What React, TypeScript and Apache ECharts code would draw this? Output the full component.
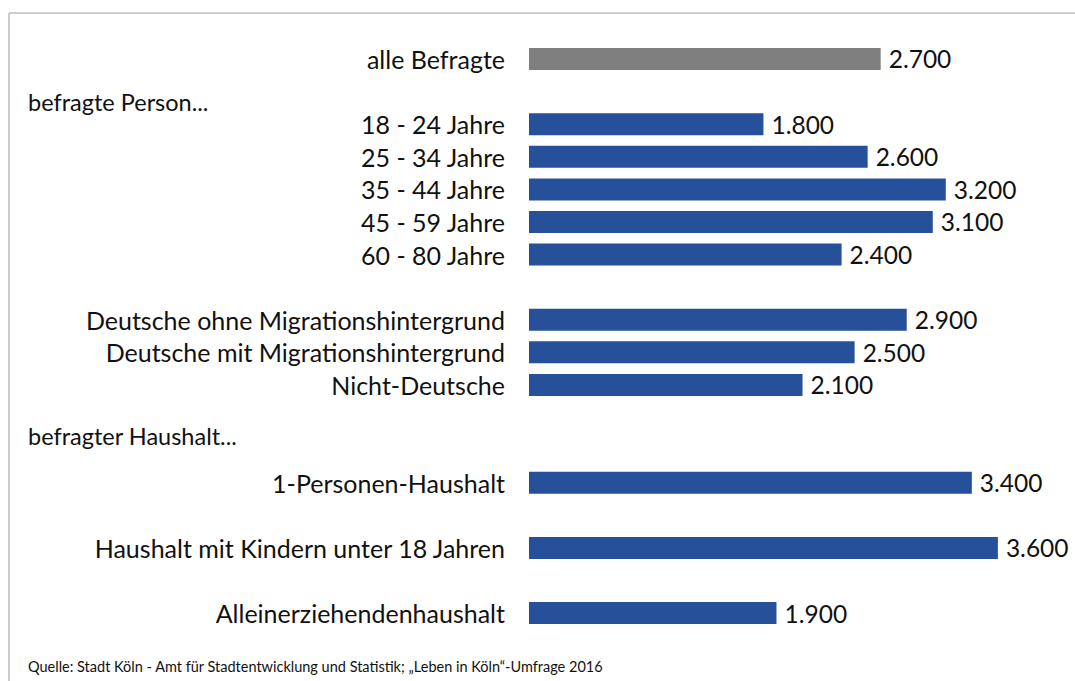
import React, { useEffect, useRef } from "react";
import * as echarts from "echarts";

const categories: string[] = [
  "alle Befragte",
  "",
  "18 - 24 Jahre",
  "25 - 34 Jahre",
  "35 - 44 Jahre",
  "45 - 59 Jahre",
  "60 - 80 Jahre",
  "",
  "Deutsche ohne Migrationshintergrund",
  "Deutsche mit Migrationshintergrund",
  "Nicht-Deutsche",
  "",
  "",
  "1-Personen-Haushalt",
  "",
  "Haushalt mit Kindern unter 18 Jahren",
  "",
  "Alleinerziehendenhaushalt",
];

const values: (number | null)[] = [
  2700, null, 1800, 2600, 3200, 3100, 2400, null, 2900, 2500, 2100, null, null, 3400, null, 3600, null, 1900,
];

const highlightIndex = 0;

const groupLabels: string[] = ["befragte Person...", "befragter Haushalt..."];
const sourceText = "Quelle: Stadt Köln - Amt für Stadtentwicklung und Statistik; „Leben in Köln“-Umfrage 2016";

const FONT = "Lato";
const BLUE = "#27509b";
const GRAY = "#7f7f7f";

function fmt(v: number): string {
  return String(v).replace(/\B(?=(\d{3})+(?!\d))/g, ".");
}

export default function App() {
  const ref = useRef<HTMLDivElement>(null);
  useEffect(() => {
    document.body.style.margin = "0";
    if (!ref.current) return;
    const chart = echarts.init(ref.current, undefined, { renderer: "svg" });
    chart.setOption({
      animation: false,
      backgroundColor: "#ffffff",
      grid: { left: 529, right: 25, top: 42.7, bottom: 51.6, containLabel: false },
      xAxis: {
        type: "value",
        min: 0,
        max: 4000,
        show: false,
      },
      yAxis: {
        type: "category",
        inverse: true,
        data: categories,
        axisLine: { show: false },
        axisTick: { show: false },
        splitLine: { show: false },
        axisLabel: {
          margin: 24,
          fontFamily: FONT,
          fontSize: 25,
          color: "#111111",
        },
      },
      series: [
        {
          type: "bar",
          barWidth: 22,
          data: values.map((v, i) =>
            v === null
              ? null
              : { value: v, itemStyle: { color: i === highlightIndex ? GRAY : BLUE } }
          ),
          label: {
            show: true,
            position: "right",
            distance: 8,
            fontFamily: FONT,
            fontSize: 24.5,
            color: "#111111",
            formatter: (p: any) => fmt(p.value),
          },
        },
      ],
      graphic: [
        {
          type: "line",
          shape: { x1: 9, y1: 13, x2: 1075, y2: 13 },
          style: { stroke: "#bdbdbd", lineWidth: 1.5 },
        },
        {
          type: "line",
          shape: { x1: 9, y1: 13, x2: 9, y2: 681 },
          style: { stroke: "#bdbdbd", lineWidth: 1.5 },
        },
        {
          type: "text",
          x: 28,
          y: 102,
          style: {
            text: groupLabels[0],
            fontFamily: FONT,
            fontSize: 23.5,
            fill: "#111111",
            verticalAlign: "middle",
          },
        },
        {
          type: "text",
          x: 28,
          y: 436,
          style: {
            text: groupLabels[1],
            fontFamily: FONT,
            fontSize: 23.5,
            fill: "#111111",
            verticalAlign: "middle",
          },
        },
        {
          type: "text",
          x: 28,
          y: 666,
          style: {
            text: sourceText,
            fontFamily: FONT,
            fontSize: 14.5,
            fill: "#111111",
            verticalAlign: "middle",
          },
        },
      ],
    });
    return () => chart.dispose();
  }, []);
  return <div ref={ref} style={{ width: 1075, height: 681 }} />;
}
